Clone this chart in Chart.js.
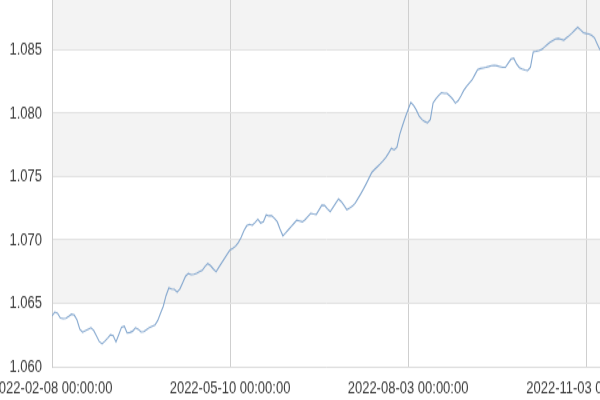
<!DOCTYPE html>
<html>
<head>
<meta charset="utf-8">
<script src="https://cdn.jsdelivr.net/npm/chart.js@4.4.0/dist/chart.umd.min.js"></script>
<style>
  html, body { margin: 0; padding: 0; background: #fff; overflow: hidden; }
</style>
</head>
<body>
<!-- source chart looks drawn at 600x300 and stretched to 600x400 -->
<canvas id="rateChart" width="600" height="300" style="width:600px;height:400px;display:block"></canvas>
<script>
// x tick positions (point index) and their labels
var tickIndex = [0, 64, 128, 192];
var tickLabels = ["2022-02-08 00:00:00", "2022-05-10 00:00:00", "2022-08-03 00:00:00", "2022-11-03 00:00:00"];

// y axis ticks
var yTicks = [1.060, 1.065, 1.070, 1.075, 1.080, 1.085];
var yMin = 1.060;
var yMax = 1.08894;

// rate values, one per trading day
var rate = [
	1.06400, 1.06431, 1.06422, 1.06383, 1.06379, 1.06381, 1.06397, 1.06414, 1.06407, 1.06368,
	1.06296, 1.06272, 1.06283, 1.06295, 1.06307, 1.06286, 1.06242, 1.06198, 1.06180, 1.06201,
	1.06225, 1.06251, 1.06244, 1.06195, 1.06252, 1.06312, 1.06319, 1.06266, 1.06270, 1.06280,
	1.06307, 1.06296, 1.06274, 1.06276, 1.06293, 1.06309, 1.06319, 1.06329, 1.06364, 1.06420,
	1.06477, 1.06561, 1.06621, 1.06613, 1.06610, 1.06588, 1.06614, 1.06663, 1.06713, 1.06735,
	1.06726, 1.06729, 1.06737, 1.06749, 1.06760, 1.06790, 1.06814, 1.06797, 1.06771, 1.06749,
	1.06785, 1.06820, 1.06854, 1.06887, 1.06921, 1.06934, 1.06951, 1.06981, 1.07020, 1.07074,
	1.07112, 1.07123, 1.07116, 1.07138, 1.07164, 1.07134, 1.07145, 1.07197, 1.07190, 1.07190,
	1.07169, 1.07143, 1.07084, 1.07033, 1.07056, 1.07081, 1.07107, 1.07131, 1.07156, 1.07150,
	1.07143, 1.07160, 1.07185, 1.07210, 1.07205, 1.07201, 1.07238, 1.07275, 1.07272, 1.07246,
	1.07223, 1.07257, 1.07291, 1.07324, 1.07303, 1.07271, 1.07238, 1.07251, 1.07267, 1.07291,
	1.07328, 1.07365, 1.07403, 1.07446, 1.07490, 1.07534, 1.07557, 1.07579, 1.07601, 1.07625,
	1.07651, 1.07685, 1.07724, 1.07711, 1.07731, 1.07833, 1.07903, 1.07968, 1.08028, 1.08086,
	1.08061, 1.08024, 1.07976, 1.07951, 1.07935, 1.07924, 1.07950, 1.08082, 1.08115, 1.08141,
	1.08163, 1.08158, 1.08158, 1.08137, 1.08113, 1.08080, 1.08099, 1.08136, 1.08180, 1.08212,
	1.08237, 1.08263, 1.08304, 1.08344, 1.08353, 1.08358, 1.08363, 1.08369, 1.08376, 1.08378,
	1.08374, 1.08368, 1.08362, 1.08362, 1.08396, 1.08428, 1.08435, 1.08389, 1.08360, 1.08350,
	1.08341, 1.08336, 1.08363, 1.08484, 1.08489, 1.08495, 1.08503, 1.08522, 1.08542, 1.08559,
	1.08573, 1.08586, 1.08590, 1.08584, 1.08577, 1.08596, 1.08614, 1.08635, 1.08657, 1.08679,
	1.08659, 1.08637, 1.08630, 1.08626, 1.08614, 1.08596, 1.08547, 1.08499
];

// alternating grey bands between the horizontal grid lines
var bandPlugin = {
	id: "bands",
	beforeDraw: function(chart){
		var ctx = chart.ctx;
		var area = chart.chartArea;
		var y = chart.scales.y;
		ctx.save();
		ctx.fillStyle = "#f3f3f3";
		for (var k = 1; k < yTicks.length; k += 2) {
			var top = (k + 1 < yTicks.length) ? y.getPixelForValue(yTicks[k + 1]) : area.top;
			var bottom = y.getPixelForValue(yTicks[k]);
			ctx.fillRect(area.left, top, area.right - area.left, bottom - top);
		}
		ctx.restore();
	}
};

var points = rate.map(function(v, i){ return {x: i, y: v}; });

var ctx = document.getElementById("rateChart").getContext("2d");
var rateChart = new Chart(ctx, {
	type: "line",
	data: {
		datasets: [{
			data: points,
			borderColor: "#85a8cf",
			borderWidth: 1.1,
			pointRadius: 0,
			tension: 0,
			fill: false
		}]
	},
	options: {
		responsive: false,
		animation: false,
		layout: { padding: { top: 0, right: 0, bottom: 0, left: 0 } },
		plugins: {
			legend: { display: false },
			tooltip: { enabled: false }
		},
		scales: {
			x: {
				type: "linear",
				min: 0,
				max: rate.length - 1,
				afterBuildTicks: function(scale){
					scale.ticks = tickIndex.map(function(v){ return {value: v}; });
				},
				afterFit: function(scale){
					// let the end labels run off the canvas like the source
					scale.paddingLeft = 0;
					scale.paddingRight = 0;
					scale.height = 25;
				},
				grid: { color: "#cfcfcf", drawTicks: false },
				border: { color: "#dcdcdc" },
				ticks: {
					padding: 9,
					maxRotation: 0,
					autoSkip: false,
					color: "#3a3a3a",
					font: { family: "Liberation Sans", size: 13 },
					callback: function(value){
						var n = tickIndex.indexOf(value);
						return n >= 0 ? tickLabels[n] : "";
					}
				}
			},
			y: {
				min: yMin,
				max: yMax,
				afterBuildTicks: function(scale){
					scale.ticks = yTicks.map(function(v){ return {value: v}; });
				},
				afterFit: function(scale){
					scale.width = 52;
					scale.paddingTop = 0;
					scale.paddingBottom = 0;
				},
				grid: { color: "#e2e2e2", drawTicks: false },
				border: { color: "#cccccc" },
				ticks: {
					padding: 10,
					color: "#3a3a3a",
					font: { family: "Liberation Sans", size: 13 },
					callback: function(value){ return value.toFixed(3); }
				}
			}
		}
	},
	plugins: [bandPlugin]
});
</script>
</body>
</html>
